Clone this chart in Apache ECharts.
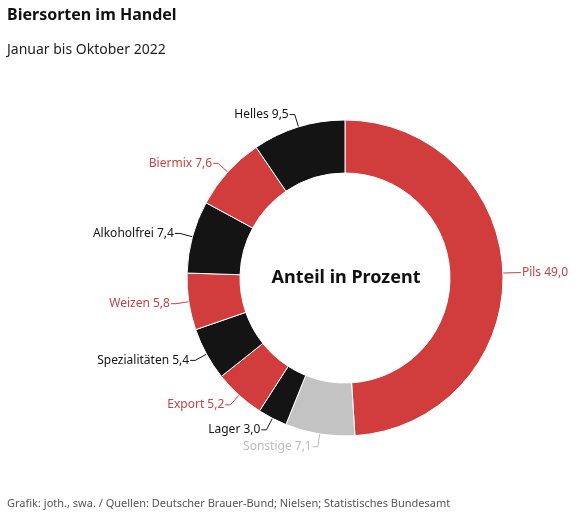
<!DOCTYPE html>
<html><head><meta charset="utf-8">
<script src="https://cdn.jsdelivr.net/npm/echarts@6/dist/echarts.min.js"></script>
<style>html,body{margin:0;padding:0;background:#fff}#c{width:582px;height:523px}</style>
</head><body><div id="c"></div>
<script>
const categories = ["Pils", "Sonstige", "Lager", "Export", "Spezialitäten", "Weizen", "Alkoholfrei", "Biermix", "Helles"];
const values = [49.0, 7.1, 3.0, 5.2, 5.4, 5.8, 7.4, 7.6, 9.5];
const colors = ["#d13d3d", "#c3c3c3", "#141414", "#d13d3d", "#141414", "#d13d3d", "#141414", "#d13d3d", "#141414"];
const labelColors = ["#c94141", "#bdbdbd", "#141414", "#c94141", "#141414", "#c94141", "#141414", "#c94141", "#141414"];

const font = "'Noto Sans', sans-serif";
const chart = echarts.init(document.getElementById('c'));
chart.setOption({
  animation: false,
  title: [
    {text: "Biersorten im Handel", left: 7, top: 7, padding: 0, textStyle: {fontFamily: font, fontSize: 16, fontWeight: 'bold', color: '#111'}},
    {text: "Januar bis Oktober 2022", left: 7, top: 43, padding: 0, textStyle: {fontFamily: font, fontSize: 14, fontWeight: 'normal', color: '#222'}},
    {text: "Anteil in Prozent", left: 346, top: 278, padding: 0, textAlign: 'center', textVerticalAlign: 'middle', textStyle: {fontFamily: font, fontSize: 18, fontWeight: 'bold', color: '#111'}},
    {text: "Grafik: joth., swa. / Quellen: Deutscher Brauer-Bund; Nielsen; Statistisches Bundesamt", left: 7, top: 498, padding: 0, textStyle: {fontFamily: font, fontSize: 11, fontWeight: 'normal', color: '#555'}}
  ],
  series: [{
    type: 'pie',
    center: [345, 278],
    radius: [105, 158],
    startAngle: 90,
    clockwise: true,
    avoidLabelOverlap: true,
    itemStyle: {borderColor: '#fff', borderWidth: 1},
    label: {show: true, position: 'outside', fontFamily: font, fontSize: 12, distanceToLabelLine: 1,
      formatter: p => p.name + ' ' + p.value.toFixed(1).replace('.', ',')},
    labelLine: {show: true, length: 13, length2: 5, lineStyle: {width: 1}},
    data: categories.map((n, i) => ({
      name: n, value: values[i],
      itemStyle: {color: colors[i]},
      label: {color: labelColors[i]},
      labelLine: {lineStyle: {color: labelColors[i]}}
    }))
  }]
});
</script></body></html>
